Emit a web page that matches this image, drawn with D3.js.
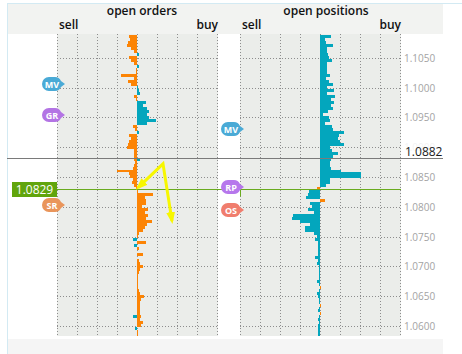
<!DOCTYPE html>
<html>
<head>
<meta charset="utf-8">
<script src="https://cdn.jsdelivr.net/npm/d3@7"></script>
<style>
  body { margin: 0; background: #fff; }
  svg { display: block; font-family: "Open Sans", sans-serif; }
</style>
</head>
<body>
<div id="chart"></div>
<script>
(function () {
  'use strict';

  // price axis ticks (right side)
  var priceTicks = [1.1050, 1.1000, 1.0950, 1.0900, 1.0850, 1.0800, 1.0750, 1.0700, 1.0650, 1.0600];
  var tickLabels = ['1.1050', '1.1000', '1.0950', '1.0900', '1.0850', '1.0800', '1.0750', '1.0700', '1.0650', '1.0600'];

  // buckets of 0.0005, first bucket centred on 1.1085, one value per bucket (%)
  var bucketTop = 1.1085, bucketStep = 0.0005;

  // open orders: limit orders (orange) and stop orders (teal); negative = sell side
  var ordersLimit = [
    -0.40, -0.35, -0.45, -0.50, -0.30, -0.15, 0, -0.40, -0.30, -0.15,
    0, -0.05, -0.05, -0.80, -0.15, -0.45, -0.30, 0, 0, 0,
    -0.15, -0.05, 0, 0, 0, 0, 0, 0, 0, 0,
    -0.20, -0.10, 0, -0.40, -0.30, -0.40, -0.45, -0.50, -0.15, -0.15,
    -0.15, -0.15, -0.10, -0.15, -0.20, -1.00, -0.40, -0.35, -0.20, -0.25,
    -0.15, -0.05, 0.05, 0.80, 0.40, 0.45, 0.45, 0.25, 0.55, 0.40,
    0.55, 0.45, 0.75, 0.50, 0.40, 0.30, 0.10, 0.05, 0, 0.45,
    0, 0.10, 0, 0.30, 0, 0.10, 0.15, 0.30, 0.15, 0.10,
    0.05, 0.05, 0.05, 0.05, 0.05, 0.10, 0.15, 0.35, 0.20, 0.15,
    0.15, 0.15, 0.15, 0.15, 0.20, 0.15, 0.30, 0.20, 0, 0.05,
    0.05
  ];
  var ordersStop = [
    0, 0, 0, 0, 0, 0, 0.10, 0, 0, 0,
    0.10, 0, 0, 0, 0, 0, 0, 0.05, 0.10, 0.15,
    0, 0, 0.45, 0.30, 0.50, 0.60, 0.50, 0.60, 0.95, 0.50,
    0, 0, 0.10, 0, 0, 0, 0, 0, 0, 0,
    0, 0.15, 0, 0, 0, 0, 0, 0, 0, 0,
    0, 0, 0, 0, 0, 0, 0, 0, 0, 0,
    0, 0, 0, 0, 0, 0, 0, 0, -0.20, 0,
    -0.15, 0, 0, 0, 0, 0, 0, 0, 0, 0,
    0, 0, 0, 0, 0, 0, 0, 0, 0, 0,
    0, 0, 0, 0, -0.20, 0, 0, 0, -0.10, 0,
    0
  ];

  // open positions: long/short (teal) and small orange remainder
  var positionsMain = [
    0.55, 0.25, 0.30, 0.65, 0.35, 0.35, 0.40, 0.45, 0.60, 0.35,
    0.35, 0.35, 0.35, 0.50, 0.30, 0.45, 0.65, 0.35, 0.70, 0.35,
    0.75, 0.55, 0.70, 0.55, 0.65, 0.40, 0.15, 0.45, 0.50, 0.25,
    0.60, 0.65, 1.20, 0.95, 0.90, 1.00, 1.20, 0.50, 0.60, 0.90,
    0.65, 0.55, 0.50, 0.50, 0.55, 1.05, 2.05, 2.05, 0.50, 0.50,
    0.30, 0, -0.55, -0.60, -0.70, 0, -0.50, -0.40, -0.60, -0.30,
    -1.35, -1.40, -1.00, -0.50, -0.75, -0.75, -0.30, -0.15, -0.25, -0.10,
    -0.10, -0.10, -0.10, -0.10, -0.25, -0.10, -0.15, -0.05, -0.05, -0.05,
    -0.05, -0.05, -0.15, -0.05, 0, -0.05, -0.15, -0.10, -0.05, -0.05,
    0, -0.05, -0.10, 0, -0.05, -0.10, -0.05, -0.10, -0.10, -0.10,
    -0.10
  ];
  var positionsOther = [
    0, 0, 0, 0, 0, 0, 0, 0, 0, 0,
    0, 0, 0, 0, 0, 0, 0, 0, 0, 0,
    0, 0, 0, 0, 0, 0, 0, 0, 0, 0,
    0, 0, 0, 0, 0, 0, 0, 0, 0, 0,
    0, 0, 0, 0, 0, 0, 0, 0, 0, 0,
    0, -0.15, 0, 0, 0, 0.25, 0, 0, 0, 0,
    0, 0, 0, 0, 0, 0, 0, 0, 0, 0,
    0, 0, 0, 0, 0, 0, 0, 0, 0, 0,
    0, 0, 0, 0, 0.05, 0, 0, 0, 0, 0,
    0.05, 0, 0, 0.05, 0, 0, 0, 0, 0, 0,
    0
  ];

  var currentPrice = 1.0882;
  var lastPrice = 1.0829;

  // level markers
  var markerLabels = ['MV', 'GR', 'SR', 'MV', 'RP', 'OS'];
  var markerPanels = ['orders', 'orders', 'orders', 'positions', 'positions', 'positions'];
  var markerPrices = [1.1006, 1.0954, 1.0803, 1.0931, 1.0833, 1.0795];

  // hand-drawn yellow arrow on the orders panel, [value, price]
  var arrowPoints = [[0.05, 1.0832], [1.3, 1.0872], [1.75, 1.0776]];

  var W = 462, H = 354;
  var ORANGE = '#fc8405', TEAL = '#03a6bd';
  var markerColor = { MV: '#4aaad6', GR: '#b374e4', SR: '#e9955b', RP: '#b677ec', OS: '#f07d6d' };

  var svg = d3.select('#chart').append('svg').attr('width', W).attr('height', H);

  var y = d3.scaleLinear().domain([1.1090, 1.0583]).range([34, 336]);
  var xOrders = d3.scaleLinear().domain([-4, 4]).range([57, 217]);
  var xPos = d3.scaleLinear().domain([-4, 4]).range([240, 400]);

  // frame / header backgrounds
  svg.append('rect').attr('x', 7).attr('y', 4).attr('width', 436).attr('height', 30).attr('fill', '#f2f3f1');
  svg.append('rect').attr('x', 8).attr('y', 339).attr('width', 435).attr('height', 15).attr('fill', '#f5f5f5');
  svg.append('line').attr('x1', 7).attr('x2', W).attr('y1', 3.5).attr('y2', 3.5).attr('stroke', '#d3eaf3');
  svg.append('line').attr('x1', 7.5).attr('x2', 7.5).attr('y1', 3).attr('y2', H).attr('stroke', '#d3eaf3');

  function panel(x, title, titleX) {
    var g = svg.append('g');
    var r = x.range();
    g.append('rect').attr('x', r[0]).attr('y', 34).attr('width', r[1] - r[0] + 1).attr('height', 302)
      .attr('fill', '#ebedea');

    // dotted grid
    g.selectAll('.vg').data(d3.range(-4, 4.01, 1)).enter().append('line')
      .attr('x1', function (d) { return Math.round(x(d)) + 0.5; })
      .attr('x2', function (d) { return Math.round(x(d)) + 0.5; })
      .attr('y1', 34).attr('y2', 336)
      .attr('stroke', '#8d8d8d').attr('stroke-dasharray', '1,2');
    g.selectAll('.hg').data(priceTicks).enter().append('line')
      .attr('x1', r[0]).attr('x2', r[1] + 1)
      .attr('y1', function (d) { return Math.round(y(d)) + 0.5; })
      .attr('y2', function (d) { return Math.round(y(d)) + 0.5; })
      .attr('stroke', '#8d8d8d').attr('stroke-dasharray', '1,2');

    svg.append('text').attr('x', titleX).attr('y', 15).attr('text-anchor', 'middle')
      .style('font-size', '12px').style('font-weight', '600').attr('fill', '#111').text(title);
    svg.append('text').attr('x', r[0] + 2).attr('y', 29)
      .style('font-size', '12px').style('font-weight', '600').attr('fill', '#111').text('sell');
    svg.append('text').attr('x', r[1] + 1).attr('y', 29).attr('text-anchor', 'end')
      .style('font-size', '12px').style('font-weight', '600').attr('fill', '#111').text('buy');
    return g;
  }

  function bars(g, x, values, color) {
    var rows = values.map(function (v, i) { return { v: v, p: bucketTop - i * bucketStep }; })
      .filter(function (d) { return d.v !== 0; });
    g.selectAll(null).data(rows).enter().append('rect')
      .attr('x', function (d) { return Math.round(Math.min(x(0), x(d.v))); })
      .attr('width', function (d) { return Math.max(1, Math.round(Math.abs(x(d.v) - x(0)))); })
      .attr('y', function (d) { return Math.round(y(d.p + bucketStep / 2)); })
      .attr('height', function (d) {
        return Math.round(y(d.p - bucketStep / 2)) - Math.round(y(d.p + bucketStep / 2));
      })
      .attr('fill', color);
  }

  var gOrders = panel(xOrders, 'open orders', 142);
  var gPos = panel(xPos, 'open positions', 326);

  bars(gOrders, xOrders, ordersLimit, ORANGE);
  bars(gOrders, xOrders, ordersStop, TEAL);
  bars(gPos, xPos, positionsMain, TEAL);
  bars(gPos, xPos, positionsOther, ORANGE);

  var yc = Math.round(y(currentPrice)) + 0.5;

  // right price axis; the tick hidden behind the current price label is only a faint ghost
  svg.selectAll('.tl').data(priceTicks).enter().append('text')
    .attr('x', 404).attr('y', function (d) { return y(d) + 4; })
    .style('font-size', '10px').attr('fill', '#a3a3a3')
    .attr('opacity', function (d) { return Math.abs(y(d) - yc) < 14 ? 0.12 : 1; })
    .text(function (d, i) { return tickLabels[i]; });

  // current price line
  svg.append('line').attr('x1', 7).attr('x2', 443).attr('y1', yc).attr('y2', yc)
    .attr('stroke', '#7a7a7a');
  svg.append('text').attr('x', 405).attr('y', yc - 3).style('font-size', '12px').attr('fill', '#1a1a1a')
    .text(currentPrice.toFixed(4));

  // last price line + label
  var yl = Math.round(y(lastPrice)) + 0.5;
  svg.append('line').attr('x1', 57).attr('x2', 401).attr('y1', yl).attr('y2', yl)
    .attr('stroke', '#6aab1f');
  svg.append('line').attr('x1', 240.5).attr('x2', 240.5).attr('y1', yl).attr('y2', yl + 7)
    .attr('stroke', '#6aab1f');
  svg.append('rect').attr('x', 12).attr('y', yl - 7.5).attr('width', 45).attr('height', 15).attr('fill', '#61a50c');
  svg.append('text').attr('x', 34.5).attr('y', yl + 4.5).attr('text-anchor', 'middle')
    .style('font-size', '12px').attr('fill', '#fff').text(lastPrice.toFixed(4));

  // markers (pill with a tail pointing into the chart)
  markerLabels.forEach(function (lab, i) {
    var cx = markerPanels[i] === 'orders' ? 52 : 231;
    var cy = Math.round(y(markerPrices[i]));
    var g = svg.append('g').attr('transform', 'translate(' + cx + ',' + cy + ')');
    g.append('path')
      .attr('d', 'M-3,-7 H3 A7,7 0 0 1 9,-3 L13,0 L9,3 A7,7 0 0 1 3,7 H-3 A7,7 0 0 1 -3,-7 Z')
      .attr('fill', markerColor[lab]);
    g.append('text').attr('x', 0).attr('y', 3.5).attr('text-anchor', 'middle')
      .style('font-size', '9px').style('font-weight', 'bold').attr('fill', '#fff').text(lab);
  });

  // yellow annotation arrow
  var defs = svg.append('defs');
  defs.append('marker').attr('id', 'ah').attr('viewBox', '0 0 12 9')
    .attr('refX', 9).attr('refY', 4.5).attr('markerWidth', 12).attr('markerHeight', 9)
    .attr('markerUnits', 'userSpaceOnUse').attr('orient', 'auto-start-reverse')
    .append('path').attr('d', 'M0,0 L12,4.5 L0,9 Z').attr('fill', '#f7f700');
  var line = d3.line()
    .x(function (d) { return xOrders(d[0]); })
    .y(function (d) { return y(d[1]); });
  svg.append('path').attr('d', line(arrowPoints)).attr('fill', 'none')
    .attr('stroke', '#f7f700').attr('stroke-width', 3).attr('stroke-linejoin', 'miter')
    .attr('marker-start', 'url(#ah)').attr('marker-end', 'url(#ah)');
})();
</script>
</body>
</html>
